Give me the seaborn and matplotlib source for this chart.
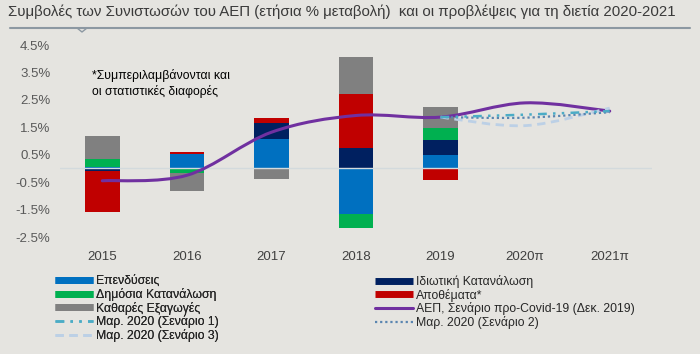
import numpy as np
import seaborn as sns
import matplotlib.pyplot as plt
from matplotlib import font_manager
from matplotlib.path import Path
from matplotlib.patches import PathPatch
from matplotlib.lines import Line2D

# data: contributions to annual GDP change (percentage points)
years = ["2015", "2016", "2017", "2018", "2019", "2020π", "2021π"]
bar_years = ["2015", "2016", "2017", "2018", "2019"]
investment = [0.05, 0.53, 1.07, -1.65, 0.50]
private_cons = [-0.10, 0.00, 0.59, 0.75, 0.54]
public_cons = [0.30, -0.18, 0.00, -0.51, 0.44]
inventories = [-1.50, 0.06, 0.18, 1.98, -0.42]
net_exports = [0.83, -0.63, -0.39, 1.34, 0.75]

gdp_pre_covid = [-0.45, -0.25, 1.32, 1.93, 1.87, 2.39, 2.09]
scen_years = ["2019", "2020π", "2021π"]
scenario1 = [1.87, 1.96, 2.09]
scenario2 = [1.87, 1.85, 2.05]
scenario3 = [1.87, 1.56, 2.20]

labels = ["Επενδύσεις", "Ιδιωτική Κατανάλωση", "Δημόσια Κατανάλωση", "Αποθέματα*",
          "Καθαρές Εξαγωγές", "ΑΕΠ, Σενάριο προ-Covid-19 (Δεκ. 2019)",
          "Μαρ. 2020 (Σενάριο 1)", "Μαρ. 2020 (Σενάριο 2)", "Μαρ. 2020 (Σενάριο 3)"]

BG = "#E5E4E0"
bar_colors = ["#0070C0", "#002060", "#00B050", "#C00000", "#808080"]
c_gdp = "#7030A0"
c_s1 = "#4BACC6"
c_s2 = "#5A85B0"
c_s3 = "#BCD0E6"


def smooth_path(xs, ys):
    # excel-like smoothed line: cubic bezier through the points
    pts = np.column_stack([xs, ys]).astype(float)
    ext = np.vstack([pts[0], pts, pts[-1]])
    verts, codes = [pts[0]], [Path.MOVETO]
    for i in range(len(pts) - 1):
        p0, p1, p2, p3 = ext[i], ext[i + 1], ext[i + 2], ext[i + 3]
        verts += [p1 + (p2 - p0) / 6, p2 - (p3 - p1) / 6, p2]
        codes += [Path.CURVE4] * 3
    return Path(verts, codes)


def main():
    sns.set_theme(style="white")
    names = {f.name for f in font_manager.fontManager.ttflist}
    narrow = "Liberation Sans Narrow" if "Liberation Sans Narrow" in names else "Liberation Sans"
    plt.rcParams["font.family"] = ["Liberation Sans", "DejaVu Sans"]

    fig = plt.figure(figsize=(7, 3.54), dpi=100, facecolor=BG)
    ax = fig.add_axes([60 / 700, 1 - 237 / 354, 592 / 700, 192 / 354], facecolor=BG)

    # stacked bars: draw cumulative totals, outermost layer first
    vals = np.array([investment, private_cons, public_cons, inventories, net_exports])
    pos = np.clip(vals, 0, None).cumsum(axis=0)
    neg = np.clip(vals, None, 0).cumsum(axis=0)
    for k in reversed(range(len(vals))):
        for stack in (pos, neg):
            sns.barplot(x=bar_years, y=stack[k], order=years, color=bar_colors[k],
                        saturation=1, width=0.41, errorbar=None, linewidth=0, ax=ax)

    ax.axhline(0, color="#D3DADD", lw=1, zorder=3)

    xpos = {y: i for i, y in enumerate(years)}
    ax.add_patch(PathPatch(smooth_path([xpos[y] for y in years], gdp_pre_covid),
                           fill=False, edgecolor=c_gdp, lw=2.2, capstyle="round", zorder=4))
    sx = [xpos[y] for y in scen_years]
    ax.add_patch(PathPatch(smooth_path(sx, scenario3), fill=False, edgecolor=c_s3,
                           lw=2.0, linestyle=(0, (3, 2)), zorder=5))
    ax.add_patch(PathPatch(smooth_path(sx, scenario2), fill=False, edgecolor=c_s2,
                           lw=1.6, linestyle=(0, (1, 1.3)), zorder=6))
    ax.add_patch(PathPatch(smooth_path(sx, scenario1), fill=False, edgecolor=c_s1,
                           lw=1.8, linestyle=(0, (3.5, 2.5, 1, 2.5, 1, 2.5)), zorder=7))

    ax.set_xlim(-0.5, len(years) - 0.5)
    ax.set_ylim(-2.5, 4.5)
    yt = np.arange(-2.5, 4.6, 1.0)
    ax.set_yticks(yt)
    ax.set_yticklabels([f"{v:.1f}%" for v in yt], fontsize=9.5, color="#595959")
    ax.set_xticks(range(len(years)))
    ax.set_xticklabels(years, fontsize=9.5, color="#404040")
    ax.tick_params(axis="x", length=0, pad=10)
    ax.tick_params(axis="y", length=0, pad=7)
    ax.set_xlabel("")
    ax.set_ylabel("")
    sns.despine(ax=ax, left=True, bottom=True)

    ax.text(0.054, 0.875, "*Συμπεριλαμβάνονται και\nοι στατιστικές διαφορές",
            transform=ax.transAxes, va="top", ha="left", fontsize=8.8,
            family=narrow, color="black", linespacing=1.35)

    # title and underline
    fig.text(8 / 700, 1 - 12 / 354, "Συμβολές των Συνιστωσών του ΑΕΠ (ετήσια % μεταβολή)  "
             "και οι προβλέψεις για τη διετία 2020-2021", ha="left", va="center",
             fontsize=10.8, color="#3A3A3A")
    fig.add_artist(Line2D([10 / 700, 690 / 700], [1 - 28 / 354] * 2,
                          transform=fig.transFigure, color="#8C98A2", lw=1.5))
    fig.add_artist(Line2D([77 / 700, 82 / 700, 87 / 700], [1 - 28 / 354, 1 - 32 / 354, 1 - 28 / 354],
                          transform=fig.transFigure, color="#8C98A2", lw=1.0))

    # legend
    def bar_h(c):
        return Line2D([], [], color=c, lw=5, solid_capstyle="butt")

    h = {
        labels[0]: bar_h(bar_colors[0]),
        labels[1]: bar_h(bar_colors[1]),
        labels[2]: bar_h(bar_colors[2]),
        labels[3]: bar_h(bar_colors[3]),
        labels[4]: bar_h(bar_colors[4]),
        labels[5]: Line2D([], [], color=c_gdp, lw=2.2),
        labels[6]: Line2D([], [], color=c_s1, lw=1.8, linestyle=(0, (3.5, 2.5, 1, 2.5, 1, 2.5))),
        labels[7]: Line2D([], [], color=c_s2, lw=1.6, linestyle=(0, (1, 1.3))),
        labels[8]: Line2D([], [], color=c_s3, lw=2.0, linestyle=(0, (3, 2))),
    }
    left_items = [labels[0], labels[2], labels[4], labels[6], labels[8]]
    right_items = [labels[1], labels[3], labels[5], labels[7]]
    common = dict(loc="upper left", frameon=False, borderpad=0, borderaxespad=0,
                  handlelength=3.1, handletextpad=0.25, labelspacing=0.06,
                  prop={"family": narrow, "size": 8.8}, labelcolor="#262626")
    leg1 = fig.legend([h[k] for k in left_items], left_items,
                      bbox_to_anchor=(55 / 700, 1 - 275 / 354), **common)
    fig.legend([h[k] for k in right_items], right_items,
               bbox_to_anchor=(375 / 700, 1 - 275 / 354), **common)
    fig.add_artist(leg1)

    fig.savefig("out.png", dpi=100, facecolor=BG)


if __name__ == "__main__":
    main()
